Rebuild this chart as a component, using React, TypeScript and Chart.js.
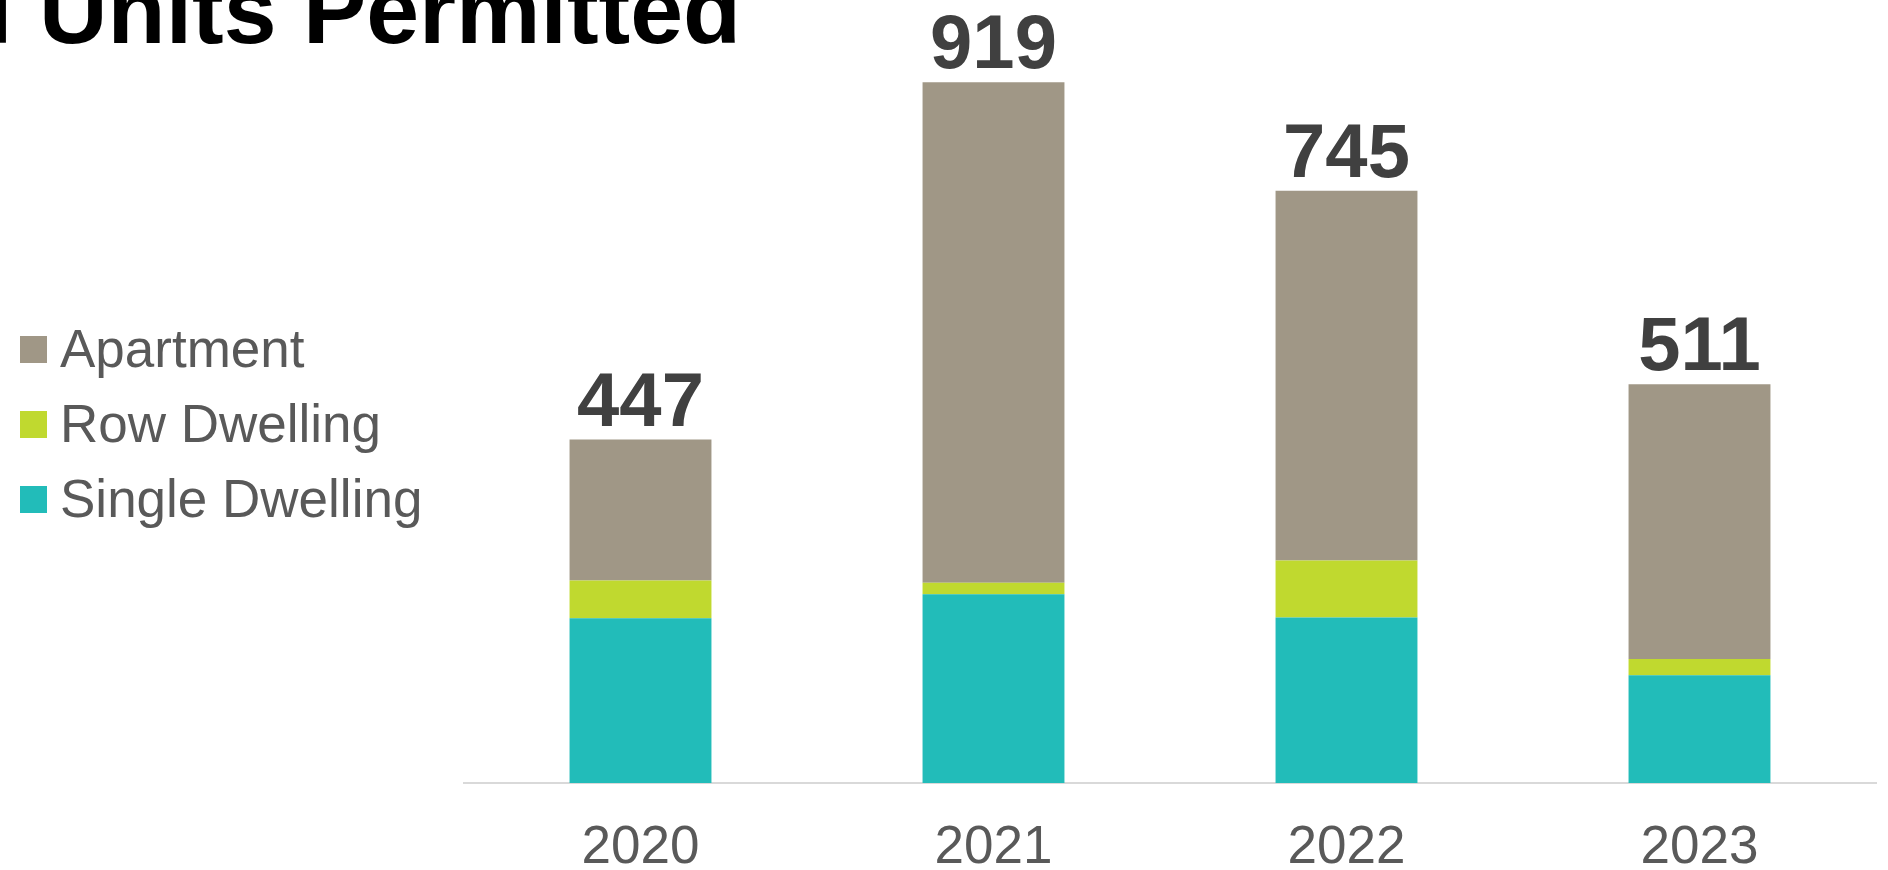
import React, { useEffect, useRef } from "react";
import { Chart, registerables } from "chart.js";

Chart.register(...registerables);

const categories = ["2020", "2021", "2022", "2023"];
const singleDwelling = [214, 245, 215, 140];
const rowDwelling = [49, 15, 74, 21];
const apartment = [183, 650, 480, 357];
const totals = [447, 919, 745, 511];
const seriesNames = ["Single Dwelling", "Row Dwelling", "Apartment"];
const seriesColors = ["#22BCB9", "#C0D92F", "#A09786"];
const titleText = "Total Units Permitted";

const FONT = '"Liberation Sans", Arial, Helvetica, sans-serif';

const overlayPlugin = {
  id: "overlay",
  afterDatasetsDraw(chart: any) {
    const ctx = chart.ctx as CanvasRenderingContext2D;
    ctx.save();
    // Totals above each stack
    const topMeta = chart.getDatasetMeta(chart.data.datasets.length - 1);
    ctx.font = `bold 76px ${FONT}`;
    ctx.fillStyle = "#404040";
    ctx.textAlign = "center";
    ctx.textBaseline = "alphabetic";
    topMeta.data.forEach((el: any, i: number) => {
      ctx.fillText(String(totals[i]), el.x, el.y - 14);
    });

    // Title (partially off the left edge, as in the reference)
    ctx.font = `bold 95px ${FONT}`;
    ctx.fillStyle = "#000000";
    ctx.textAlign = "left";
    const prefixW = ctx.measureText("Total ").width;
    ctx.fillText(titleText, 39 - prefixW, 43);

    // Legend (reverse order of stacking)
    const ds = chart.data.datasets;
    ctx.font = `53px ${FONT}`;
    for (let k = 0; k < ds.length; k++) {
      const d = ds[ds.length - 1 - k];
      const boxTop = 336 + k * 75;
      ctx.fillStyle = d.backgroundColor;
      ctx.fillRect(20, boxTop, 27, 27);
      ctx.fillStyle = "#595959";
      ctx.fillText(d.label, 60, boxTop + 31);
    }
    ctx.restore();
  },
};

export default function App() {
  const canvasRef = useRef<HTMLCanvasElement | null>(null);

  useEffect(() => {
    if (!canvasRef.current) return;
    const values = [singleDwelling, rowDwelling, apartment];
    const chart = new Chart(canvasRef.current, {
      type: "bar",
      data: {
        labels: categories,
        datasets: values.map((v, i) => ({
          label: seriesNames[i],
          data: v,
          backgroundColor: seriesColors[i],
          borderWidth: 0,
          categoryPercentage: 1,
          barPercentage: 0.402,
        })),
      },
      options: {
        animation: false,
        responsive: false,
        devicePixelRatio: 1,
        layout: { padding: { left: 464, right: 12, top: 13, bottom: -43.4 } },
        plugins: {
          legend: { display: false },
          tooltip: { enabled: false },
          title: { display: false },
        },
        scales: {
          x: {
            stacked: true,
            grid: { display: false, drawTicks: false },
            border: { display: true, color: "#d9d9d9", width: 2 },
            ticks: {
              color: "#595959",
              padding: 44,
              font: { family: FONT, size: 53, lineHeight: 0.8 },
            },
          },
          y: {
            stacked: true,
            display: false,
            min: 0,
            max: 1000,
          },
        },
      },
      plugins: [overlayPlugin],
    });
    return () => chart.destroy();
  }, []);

  return (
    <div style={{ position: "fixed", left: 0, top: 0, width: 1888, height: 870, background: "#fff" }}>
      <canvas ref={canvasRef} width={1888} height={870} style={{ width: 1888, height: 870, display: "block" }} />
    </div>
  );
}
